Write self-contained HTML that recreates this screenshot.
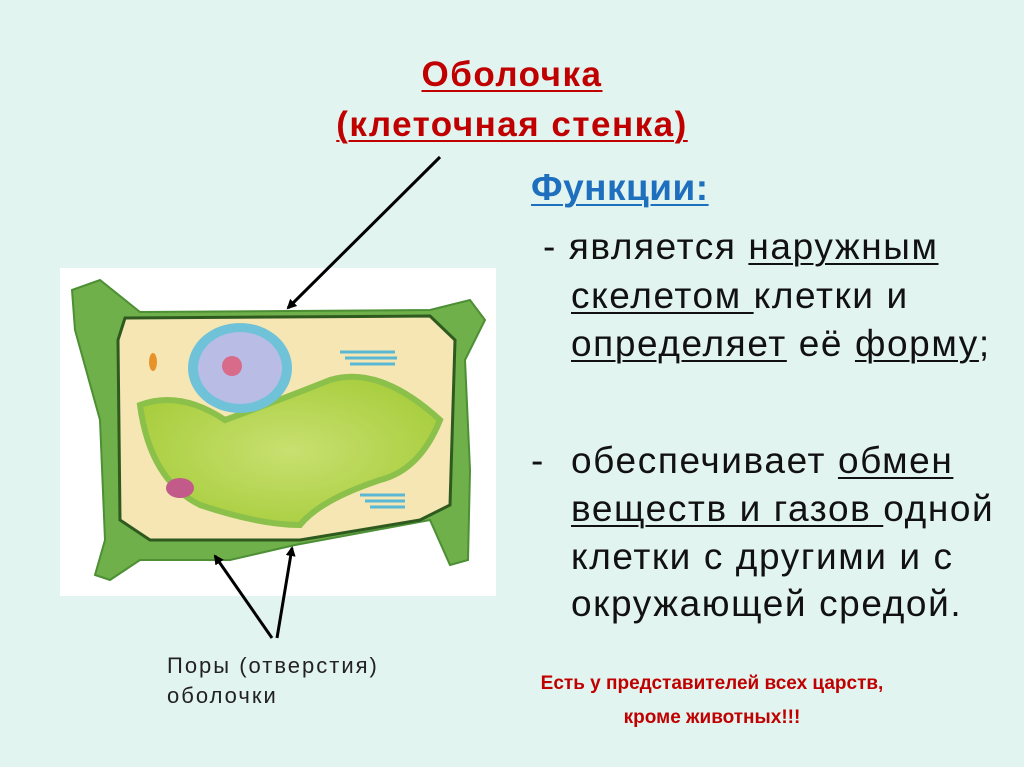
<!DOCTYPE html>
<html><head><meta charset="utf-8"><style>
body{margin:0;width:1024px;height:767px;background:#e2f4ef;position:relative;overflow:hidden;font-family:"Liberation Sans",sans-serif}
.t{position:absolute;white-space:nowrap}
u{text-decoration:underline;text-decoration-thickness:2px;text-underline-offset:4px}
.b{font-size:37px;letter-spacing:1.6px;color:#111;line-height:44px}
</style></head><body>
<div class="t" style="left:0;width:1024px;top:50px;text-align:center;color:#c00000;font-weight:bold;font-size:35px;letter-spacing:1.5px;line-height:50px"><u>Оболочка</u><br><u>(клеточная стенка)</u></div>
<div class="t" style="left:531px;top:167px;color:#1f6fbf;font-weight:bold;font-size:37px;letter-spacing:0.5px"><u>Функции:</u></div>
<div class="t b" style="left:543px;top:225px">- является <u>наружным</u></div>
<div class="t b" style="left:571px;top:274px"><u>скелетом </u>клетки и</div>
<div class="t b" style="left:571px;top:322px"><u>определяет</u> её <u>форму</u>;</div>
<div class="t b" style="left:531px;top:439px">-</div>
<div class="t b" style="left:571px;top:439px">обеспечивает <u>обмен</u></div>
<div class="t b" style="left:571px;top:487px"><u>веществ и газов </u>одной</div>
<div class="t b" style="left:571px;top:535px">клетки с другими и с</div>
<div class="t b" style="left:571px;top:582px">окружающей средой.</div>
<div class="t" style="left:500px;width:424px;text-align:center;top:667px;color:#c00000;font-weight:bold;font-size:19px;line-height:34px">Есть у представителей всех царств,<br>кроме животных!!!</div>
<div class="t" style="left:167px;top:651px;font-size:22px;letter-spacing:2px;line-height:30px;color:#222">Поры (отверстия)<br>оболочки</div>
<svg style="position:absolute;left:0;top:0" width="1024" height="767">
<defs><marker id="a" markerWidth="10" markerHeight="10" refX="8" refY="5" orient="auto" markerUnits="userSpaceOnUse"><path d="M0,0L10,5L0,10z" fill="#000"/></marker>
<radialGradient id="v" cx=".5" cy=".5" r=".6"><stop offset="0" stop-color="#c8e070"/><stop offset="1" stop-color="#a6cc3a"/></radialGradient></defs>
<rect x="60" y="268" width="436" height="328" fill="#fff"/>
<path d="M72,290 L100,280 L140,312 L430,310 L470,300 L485,320 L465,360 L470,470 L468,560 L450,565 L430,520 L295,545 L230,560 L140,560 L110,580 L95,575 L105,540 L100,420 L75,330 Z" fill="#6fb04a" stroke="#4d8f35" stroke-width="2"/>
<path d="M125,318 L430,316 L455,340 L450,505 L420,520 L300,540 L150,540 L120,520 L118,340 Z" fill="#f5e6b4" stroke="#2e5a20" stroke-width="3"/>
<path d="M140,405 Q180,390 225,420 Q280,400 330,380 Q380,365 440,420 Q420,470 380,480 Q320,500 300,525 Q260,525 200,505 Q150,480 140,405 Z" fill="url(#v)" stroke="#8bc04a" stroke-width="6"/>
<ellipse cx="240" cy="368" rx="52" ry="45" fill="#6fc2d8"/>
<ellipse cx="240" cy="368" rx="42" ry="36" fill="#b9bde6"/>
<circle cx="232" cy="366" r="10" fill="#d86a8a"/>
<path d="M340,352 h55 M345,358 h52 M350,364 h45" stroke="#5ab8d4" stroke-width="3"/>
<path d="M360,495 h45 M365,501 h40 M370,507 h35" stroke="#5ab8d4" stroke-width="3"/>
<ellipse cx="180" cy="488" rx="14" ry="10" fill="#c25a8a"/>
<ellipse cx="153" cy="362" rx="4" ry="9" fill="#e8932a"/>
<line x1="440" y1="157" x2="288" y2="308" stroke="#000" stroke-width="3" marker-end="url(#a)"/>
<line x1="272" y1="638" x2="215" y2="556" stroke="#000" stroke-width="3" marker-end="url(#a)"/>
<line x1="277" y1="638" x2="292" y2="548" stroke="#000" stroke-width="3" marker-end="url(#a)"/>
</svg>
</body></html>
